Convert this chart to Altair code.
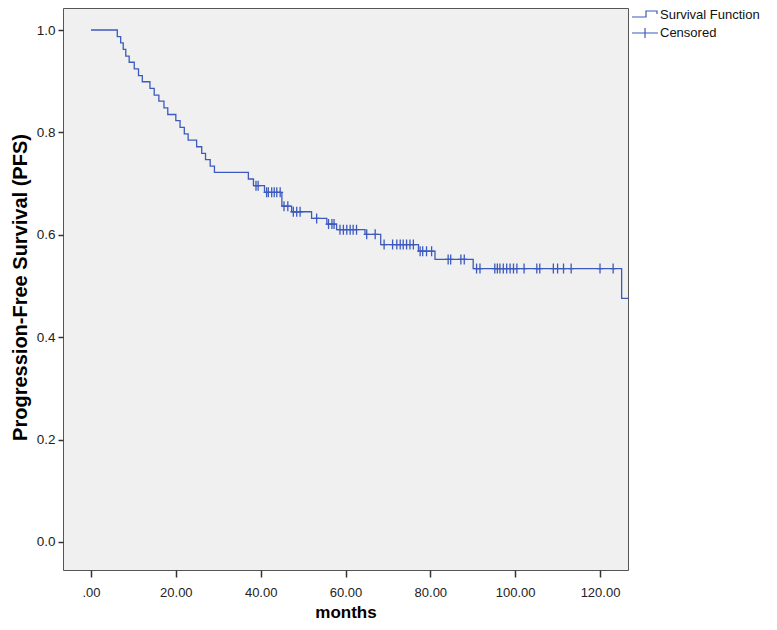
import altair as alt
import pandas as pd

# Kaplan-Meier step curve (months, survival)
step_times = [0, 6.2, 7.0, 7.6, 8.2, 9.0, 10.2, 11.2, 12.1, 13.9, 14.9, 16.0, 17.2, 18.1,
              20.0, 21.0, 22.0, 22.9, 24.9, 26.1, 27.0, 28.1, 29.1,
              37.1, 38.3, 40.9, 45.0, 47.3, 52.0, 55.6, 57.9, 64.6, 68.3, 77.2, 81.1,
              90.1, 125.1, 126.6]
step_surv = [1.0, 0.987, 0.975, 0.962, 0.949, 0.937, 0.924, 0.911, 0.899, 0.886, 0.873,
             0.861, 0.848, 0.835, 0.823, 0.810, 0.797, 0.785, 0.772, 0.759, 0.747, 0.734,
             0.722, 0.709, 0.696, 0.683, 0.656, 0.645, 0.632, 0.621, 0.610, 0.601, 0.581,
             0.568, 0.552, 0.534, 0.476, 0.476]

# Censored observations
censor_times = [38.9, 39.4,
                41.4, 41.8, 42.6, 43.2, 43.8, 44.6,
                45.5, 46.4,
                47.7, 48.5, 49.3,
                53.2,
                56.0, 56.8, 57.3,
                58.7, 59.5, 60.3, 61.1, 61.8, 62.6,
                65.0, 67.0,
                69.1, 71.1, 72.1, 72.9, 73.6, 74.4, 75.2, 76.0,
                77.6, 78.2, 79.1, 80.3,
                84.2, 84.8, 87.2, 88.0,
                90.9, 91.7, 95.2, 95.8, 96.4, 97.2, 98.0, 98.8, 99.6, 100.4, 102.1,
                105.1, 105.8, 109.0, 110.0, 111.4, 113.2, 120.0, 123.1]
censor_surv = ([0.696] * 2 + [0.683] * 6 + [0.656] * 2 + [0.645] * 3 + [0.632] * 1 +
               [0.621] * 3 + [0.610] * 6 + [0.601] * 2 + [0.581] * 8 + [0.568] * 4 +
               [0.552] * 4 + [0.534] * 19)

x_ticks = [0, 20, 40, 60, 80, 100, 120]
y_ticks = [0.0, 0.2, 0.4, 0.6, 0.8, 1.0]
legend_labels = ["Survival Function", "Censored"]

BLUE = "#3C5ABE"
FONT = "Liberation Sans"

step_df = pd.DataFrame({"t": step_times, "s": step_surv})
cens_df = pd.DataFrame({"t": censor_times, "s": censor_surv})
one = pd.DataFrame({"a": [0]})

xscale = alt.Scale(domain=[-6.6, 126.6], nice=False, zero=False)
yscale = alt.Scale(domain=[-0.0547, 1.043], nice=False, zero=False)

xaxis = alt.Axis(values=x_ticks, grid=False, domain=False, tickSize=7, tickColor="#333",
                 tickWidth=1.5,
                 labelExpr="datum.value == 0 ? '.00' : format(datum.value, '.2f')",
                 labelFont=FONT, labelFontSize=13, labelColor="#222", labelPadding=9,
                 title="months", titleFont=FONT, titleFontSize=17, titleFontWeight="bold",
                 titleColor="#000", titleBaseline="alphabetic", titleY=47)
yaxis = alt.Axis(values=y_ticks, grid=False, domain=False, tickSize=5, tickColor="#333",
                 tickWidth=1.5, format=".1f",
                 labelFont=FONT, labelFontSize=13.5, labelColor="#222", labelPadding=3,
                 title="Progression-Free Survival (PFS)", titleFont=FONT, titleFontSize=20,
                 titleFontWeight="bold", titleColor="#000", titleX=-43, titleY=279,
                 titleBaseline="middle")

line = alt.Chart(step_df).mark_line(
    interpolate="step-after", color=BLUE, strokeWidth=1.3, clip=True
).encode(
    x=alt.X("t:Q", scale=xscale, axis=xaxis),
    y=alt.Y("s:Q", scale=yscale, axis=yaxis),
)

cens = alt.Chart(cens_df).mark_point(
    shape="M-3,0L3,0M0,-5L0,5", size=4, filled=False, stroke=BLUE, strokeWidth=1.3,
    opacity=1
).encode(x=alt.X("t:Q", scale=xscale), y=alt.Y("s:Q", scale=yscale))

# legend (drawn to the right of the plot area)
leg_step = alt.Chart(one).mark_point(
    shape="M-13,3L1,3L1,-3L12,-3L12,0", size=4, filled=False, stroke=BLUE,
    strokeWidth=1.2, opacity=1
).encode(x=alt.value(582), y=alt.value(6))
leg_cens = alt.Chart(one).mark_point(
    shape="M-13,0L13,0M0,-5L0,5", size=4, filled=False, stroke=BLUE,
    strokeWidth=1.2, opacity=1
).encode(x=alt.value(582), y=alt.value(25))
leg_t1 = alt.Chart(one).mark_text(
    text=legend_labels[0], align="left", baseline="middle", font=FONT, fontSize=13,
    color="#111"
).encode(x=alt.value(597), y=alt.value(7))
leg_t2 = alt.Chart(one).mark_text(
    text=legend_labels[1], align="left", baseline="middle", font=FONT, fontSize=13,
    color="#111"
).encode(x=alt.value(597), y=alt.value(25))

chart = alt.layer(line, cens, leg_step, leg_cens, leg_t1, leg_t2).properties(
    width=565, height=562,
    autosize=alt.AutoSizeParams(type="none"),
    padding={"left": 55, "top": 0, "right": 141, "bottom": 52},
    background="white",
).configure_view(fill="#F0F0F0", stroke="#555", strokeWidth=1)

chart.save("out.html", embed_options={"renderer": "svg", "actions": False})
